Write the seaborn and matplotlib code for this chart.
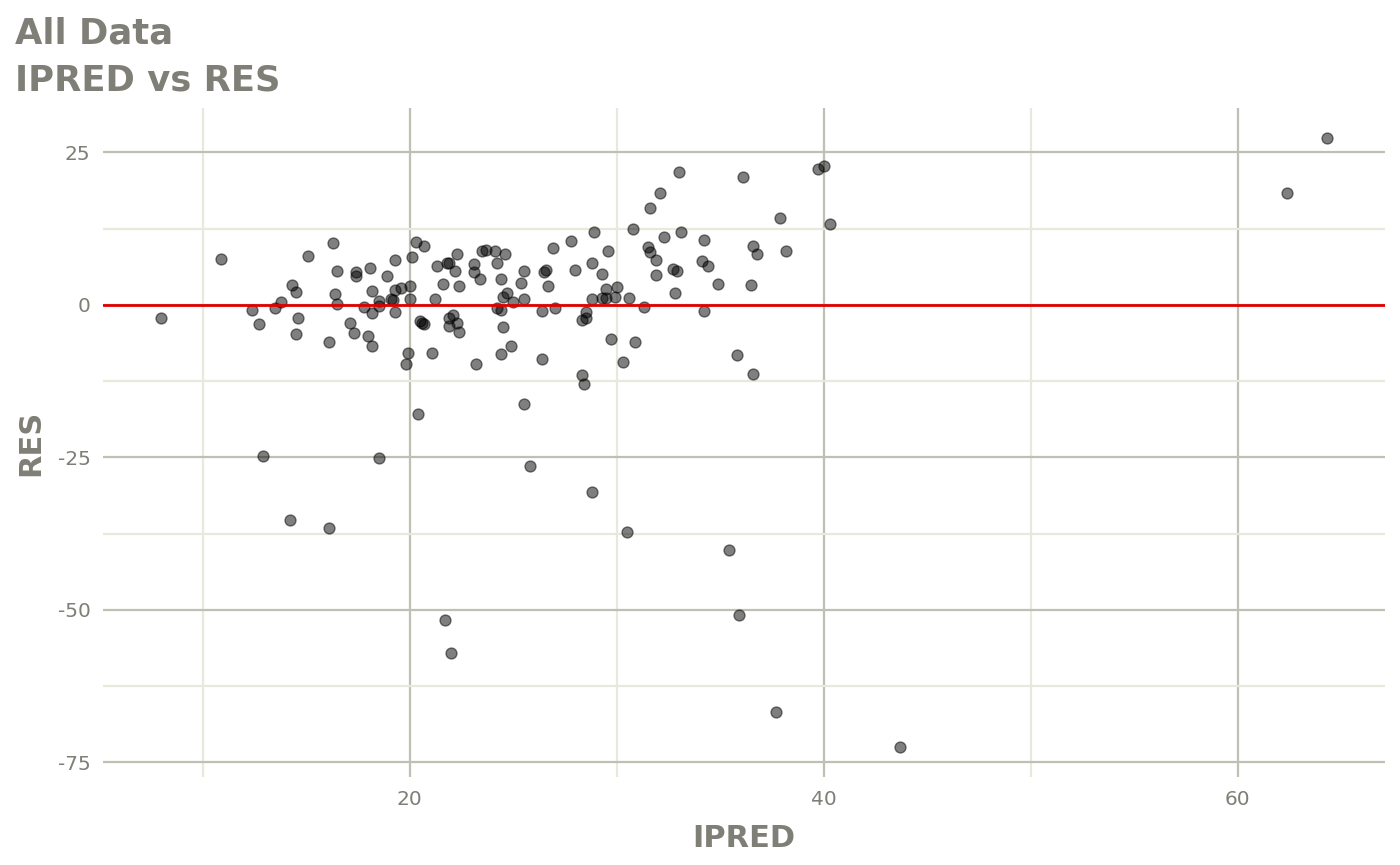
import matplotlib
matplotlib.use("Agg")
import matplotlib.pyplot as plt
import numpy as np
import pandas as pd
import seaborn as sns
from matplotlib.ticker import MultipleLocator

# values
ipred = [
    8.0, 10.9, 12.4, 12.7, 12.9, 13.5, 13.8, 14.3, 14.5, 14.6,
    14.5, 14.2, 15.1, 16.3, 16.5, 16.4, 16.5, 16.1, 16.1, 17.1,
    17.3, 17.4, 17.4, 17.8, 18.0, 18.1, 18.2, 18.2, 18.2, 18.5,
    18.5, 18.5, 18.9, 19.1, 19.2, 19.3, 19.3, 19.3, 19.6, 19.8,
    19.9, 20.0, 20.0, 20.1, 20.3, 20.7, 20.4, 20.5, 20.6, 20.7,
    21.1, 21.2, 21.3, 21.6, 21.8, 21.9, 21.7, 22.0, 22.3, 22.2,
    22.4, 22.1, 21.9, 21.9, 22.3, 22.4, 23.1, 23.1, 23.2, 23.4,
    23.5, 23.7, 24.1, 24.2, 24.6, 24.4, 24.7, 24.5, 25.0, 24.2,
    24.4, 24.5, 24.9, 24.4, 25.5, 25.4, 25.5, 25.5, 25.8, 26.4,
    27.0, 26.9, 27.8, 26.5, 26.6, 26.7, 26.4, 28.0, 28.8, 28.9,
    29.6, 29.3, 28.8, 29.3, 29.5, 29.5, 30.0, 29.9, 30.6, 28.5,
    28.5, 28.3, 31.3, 29.7, 30.9, 30.3, 28.3, 28.4, 28.8, 30.5,
    30.8, 31.5, 31.6, 31.9, 31.9, 31.6, 32.1, 32.3, 33.0, 33.1,
    32.7, 32.9, 32.8, 34.1, 34.2, 34.2, 34.4, 34.9, 35.4, 35.8,
    35.9, 36.1, 36.5, 36.6, 36.8, 36.6, 37.7, 37.9, 38.2, 39.7,
    40.0, 40.3, 43.7, 62.4, 64.3,
]
res = [
    -2.1, 7.6, -0.8, -3.1, -24.8, -0.5, 0.4, 3.2, 2.1, -2.1,
    -4.7, -35.3, 8.0, 10.1, 5.6, 1.8, 0.2, -6.0, -36.6, -3.0,
    -4.6, 5.4, 4.7, -0.3, -5.1, 6.0, 2.2, -1.3, -6.8, 0.6,
    -0.2, -25.1, 4.8, 1.0, 0.8, 7.4, -1.2, 2.4, 2.8, -9.7,
    -7.9, 1.0, 3.1, 7.8, 10.3, 9.7, -17.9, -2.6, -3.0, -3.2,
    -7.9, 1.0, 6.4, 3.4, 6.9, 6.8, -51.6, -57.0, 8.3, 5.6,
    3.1, -1.7, -2.2, -3.5, -3.0, -4.5, 6.7, 5.4, -9.7, 4.2,
    8.8, 9.0, 8.8, 6.9, 8.3, 4.2, 2.0, 1.3, 0.5, -0.5,
    -0.8, -3.6, -6.7, -8.1, 5.5, 3.6, 1.0, -16.3, -26.4, -1.0,
    -0.5, 9.4, 10.5, 5.4, 5.8, 3.1, -8.8, 5.7, 6.8, 12.0,
    8.9, 5.0, 1.0, 1.1, 2.6, 1.2, 3.0, 1.3, 1.2, -1.1,
    -2.1, -2.5, -0.4, -5.6, -6.0, -9.3, -11.5, -13.0, -30.7, -37.3,
    12.5, 9.5, 8.7, 7.4, 4.9, 15.9, 18.3, 11.2, 21.8, 11.9,
    5.9, 5.6, 1.9, 7.2, 10.6, -1.0, 6.3, 3.4, -40.1, -8.2,
    -50.9, 21.0, 3.2, 9.6, 8.3, -11.3, -66.8, 14.2, 8.8, 22.3,
    22.7, 13.3, -72.4, 18.4, 27.3,
]

x_major = [20, 40, 60]
y_major = [-75, -50, -25, 0, 25]

TEXT_GREY = "#7f7f77"
MAJOR_GRID = "#bfbfb3"
MINOR_GRID = "#e8e8dc"

df = pd.DataFrame({"IPRED": ipred, "RES": res})

sns.set_theme(style="white")
plt.rcParams["font.family"] = ["DejaVu Sans"]
plt.rcParams["axes.unicode_minus"] = False

fig = plt.figure(figsize=(14, 8.65), dpi=100)
ax = fig.add_axes([0.0736, 0.1017, 0.9157, 0.7735])

ax.set_axisbelow(True)
sns.scatterplot(
    data=df,
    x="IPRED",
    y="RES",
    color="black",
    alpha=0.5,
    s=62,
    edgecolor="black",
    linewidth=1.0,
    ax=ax,
    zorder=3,
)
ax.axhline(0, color="#e00000", linewidth=2.0, zorder=4)

# ggplot style expansion of 5%
xr = max(ipred) - min(ipred)
yr = max(res) - min(res)
ax.set_xlim(min(ipred) - 0.05 * xr, max(ipred) + 0.05 * xr)
ax.set_ylim(min(res) - 0.05 * yr, max(res) + 0.05 * yr)

ax.set_xticks(x_major)
ax.set_yticks(y_major)
ax.xaxis.set_minor_locator(MultipleLocator(10))
ax.yaxis.set_minor_locator(MultipleLocator(12.5))
ax.grid(which="major", color=MAJOR_GRID, linewidth=1.6)
ax.grid(which="minor", color=MINOR_GRID, linewidth=1.6)
ax.tick_params(which="major", length=5, width=1.6, color="#6e6e66",
               labelsize=14.5, labelcolor=TEXT_GREY, pad=4)
ax.tick_params(which="minor", length=0)
for s in ax.spines.values():
    s.set_visible(False)

ax.set_xlabel("IPRED", fontsize=22, fontweight="bold", color=TEXT_GREY, labelpad=11)
ax.set_ylabel("RES", fontsize=22, fontweight="bold", color=TEXT_GREY, labelpad=9)

fig.text(0.011, 0.95, "All Data", fontsize=25.5, fontweight="bold",
         color=TEXT_GREY, ha="left", va="baseline")
fig.text(0.011, 0.895, "IPRED vs RES", fontsize=25.5, fontweight="bold",
         color=TEXT_GREY, ha="left", va="baseline")

fig.savefig("out.png", dpi=100, facecolor="white")
